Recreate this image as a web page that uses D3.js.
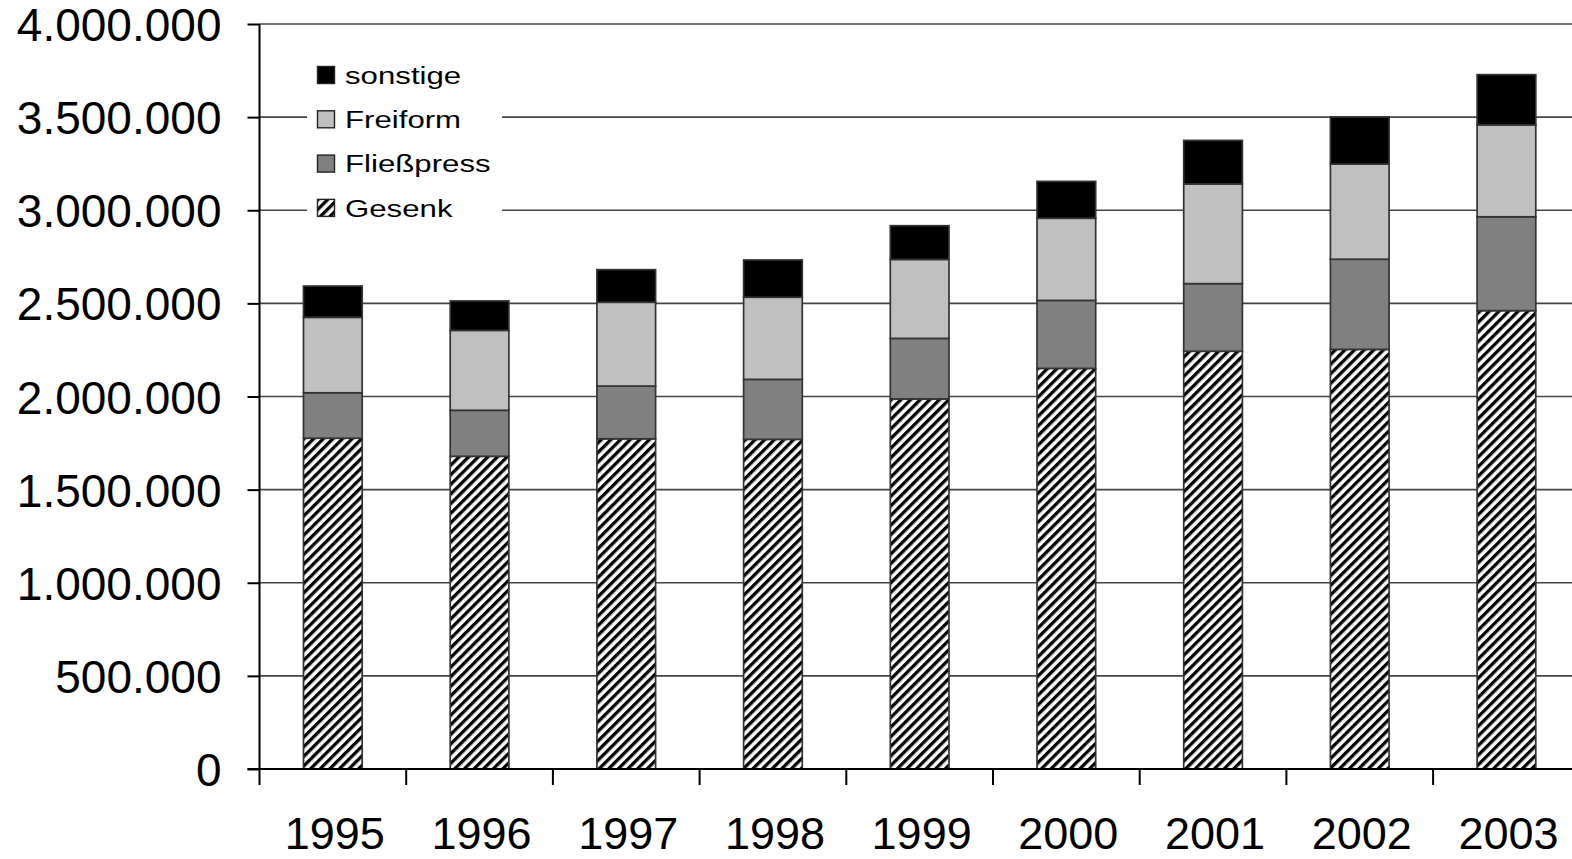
<!DOCTYPE html>
<html>
<head>
<meta charset="utf-8">
<script src="https://cdn.jsdelivr.net/npm/d3@7"></script>
<style>
  html, body { margin: 0; padding: 0; background: #fff; }
  svg { display: block; font-family: "Liberation Sans", Arial, sans-serif; }
</style>
</head>
<body>
<svg id="chart" width="1572" height="859"></svg>
<script>
// Production by forging process, 1995–2003
const years = ["1995", "1996", "1997", "1998", "1999", "2000", "2001", "2002", "2003"];
const gesenk      = [1776000, 1679000, 1773000, 1770000, 1987000, 2151000, 2243000, 2253000, 2461000];
const fliesspress = [ 244000,  247000,  283000,  322000,  325000,  365000,  363000,  484000,  504000];
const freiform    = [ 405000,  429000,  450000,  441000,  424000,  441000,  535000,  511000,  493000];
const sonstige    = [ 168000,  158000,  175000,  200000,  181000,  198000,  234000,  253000,  270000];
const seriesNames = ["Gesenk", "Fließpress", "Freiform", "sonstige"];
const yTicks = [0, 500000, 1000000, 1500000, 2000000, 2500000, 3000000, 3500000, 4000000];

const rows = years.map((y, i) => ({
  year: y,
  "Gesenk": gesenk[i],
  "Fließpress": fliesspress[i],
  "Freiform": freiform[i],
  "sonstige": sonstige[i]
}));

const svg = d3.select("#chart");
const W = 1572, H = 859;

const left = 259.5, step = 146.7;
const x = d3.scaleBand()
  .domain(years)
  .range([left, left + step * years.length])
  .paddingInner(0.6)
  .paddingOuter(0.3);

const y = d3.scaleLinear().domain([0, 4000000]).range([769, 24]);

const de = d3.formatLocale({ decimal: ",", thousands: ".", grouping: [3], currency: ["", " €"] });
const fmt = de.format(",d");

// hatch pattern for Gesenk
const defs = svg.append("defs");
defs.append("pattern")
  .attr("id", "hatch")
  .attr("patternUnits", "userSpaceOnUse")
  .attr("width", 6.8).attr("height", 10)
  .attr("patternTransform", "rotate(45)")
  .call(p => {
    p.append("rect").attr("width", 6.8).attr("height", 10).attr("fill", "#fff");
    p.append("rect").attr("width", 3.3).attr("height", 10).attr("fill", "#000");
  });

const fills = {
  "Gesenk": "url(#hatch)",
  "Fließpress": "#808080",
  "Freiform": "#c0c0c0",
  "sonstige": "#000000"
};

// horizontal gridlines
svg.append("g").selectAll("line")
  .data(yTicks.filter(d => d > 0))
  .join("line")
  .attr("x1", left).attr("x2", W)
  .attr("y1", d => y(d)).attr("y2", d => y(d))
  .attr("stroke", "#444").attr("stroke-width", 1.6);

// stacked bars
const stacked = d3.stack().keys(seriesNames)(rows);
svg.append("g").selectAll("g")
  .data(stacked)
  .join("g")
  .attr("fill", d => fills[d.key])
  .selectAll("rect")
  .data(d => d)
  .join("rect")
  .attr("x", d => x(d.data.year))
  .attr("width", x.bandwidth())
  .attr("y", d => y(d[1]))
  .attr("height", d => y(d[0]) - y(d[1]))
  .attr("stroke", "#333")
  .attr("stroke-width", 1.7);

// y axis
const yAxis = d3.axisLeft(y)
  .tickValues(yTicks)
  .tickFormat(fmt)
  .tickSize(12)
  .tickPadding(26);
const gy = svg.append("g").attr("transform", `translate(${left},0)`).call(yAxis);
gy.select(".domain").remove();
gy.selectAll(".tick line").attr("stroke", "#000").attr("stroke-width", 2);
gy.selectAll(".tick text")
  .attr("fill", "#000")
  .attr("font-size", 46)
  .attr("font-family", "'Liberation Sans', Arial, sans-serif")
  .attr("dy", "0.36em");
svg.append("line")
  .attr("x1", left).attr("x2", left)
  .attr("y1", y(4000000)).attr("y2", 785)
  .attr("stroke", "#000").attr("stroke-width", 2);

// x axis
svg.append("line")
  .attr("x1", left - 12).attr("x2", W)
  .attr("y1", y(0)).attr("y2", y(0))
  .attr("stroke", "#000").attr("stroke-width", 2.2);
const gap = (x.step() - x.bandwidth()) / 2;
const bounds = years.map(d => x(d) - gap).concat([x(years[years.length - 1]) + x.bandwidth() + gap]);
svg.append("g").selectAll("line")
  .data(bounds.slice(1))
  .join("line")
  .attr("x1", d => d).attr("x2", d => d)
  .attr("y1", y(0)).attr("y2", 785)
  .attr("stroke", "#000").attr("stroke-width", 2);
svg.append("g").selectAll("text")
  .data(years)
  .join("text")
  .attr("x", d => x(d) + x.bandwidth() / 2 + 2)
  .attr("y", 849)
  .attr("text-anchor", "middle")
  .attr("font-size", 45)
  .attr("fill", "#000")
  .text(d => d);

// legend
const legend = svg.append("g");
legend.append("rect")
  .attr("x", 307).attr("y", 52).attr("width", 195).attr("height", 180)
  .attr("fill", "#fff");
const legendOrder = ["sonstige", "Freiform", "Fließpress", "Gesenk"];
const item = legend.selectAll("g.item")
  .data(legendOrder)
  .join("g")
  .attr("class", "item")
  .attr("transform", (d, i) => `translate(317,${75 + i * 44.3})`);
item.append("rect")
  .attr("x", 0.5).attr("y", -8.5)
  .attr("width", 17).attr("height", 17)
  .attr("fill", d => fills[d])
  .attr("stroke", "#222").attr("stroke-width", 1.4);
item.append("text")
  .attr("transform", "translate(28,0) scale(1.3,1)")
  .attr("dy", "0.36em")
  .attr("font-size", 24)
  .attr("fill", "#000")
  .text(d => d);
</script>
</body>
</html>
